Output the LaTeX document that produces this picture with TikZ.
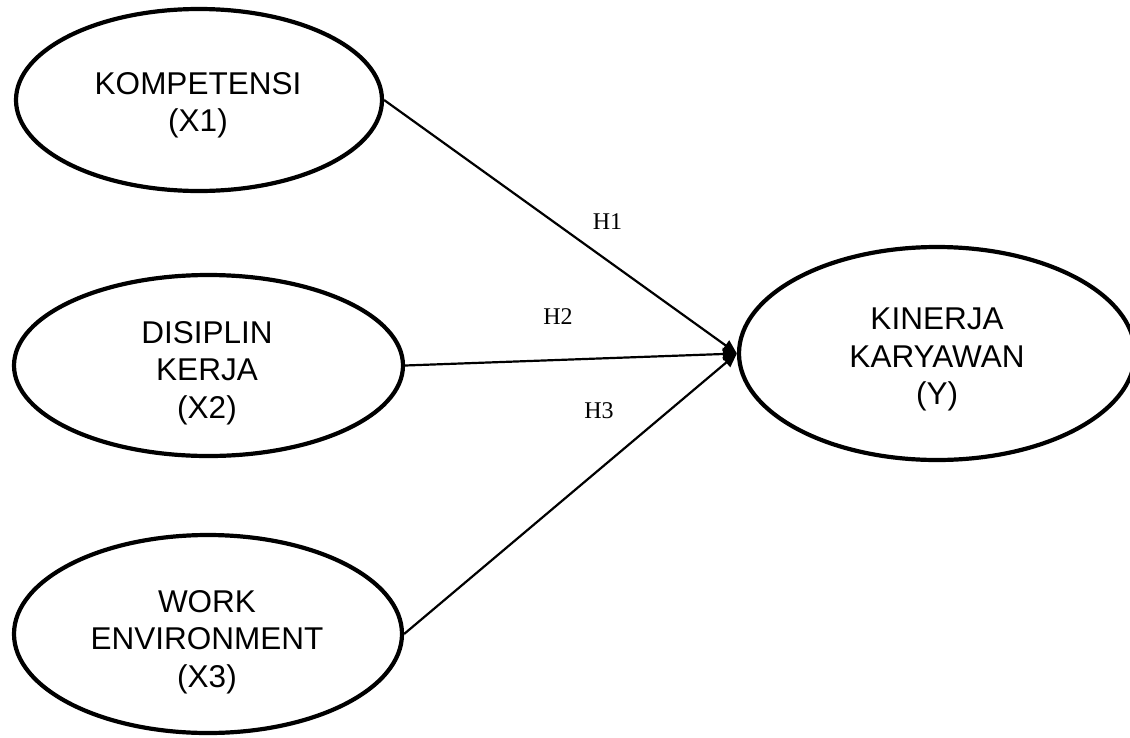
\documentclass[tikz,border=0pt]{standalone}
\usepackage{fontspec}
\setmainfont{Liberation Sans}
\newfontfamily\labelfont{Liberation Serif}
\usetikzlibrary{arrows.meta,shapes.geometric}
\begin{document}
\begin{tikzpicture}[x=1pt,y=-1pt,
  varbox/.style={draw, ellipse, line width=4.2pt, inner sep=0pt},
  vartext/.style={align=center, font=\fontsize{31.5}{37.5}\selectfont, inner sep=0pt},
  hyp/.style={font=\labelfont\fontsize{24}{28}\selectfont, inner sep=0pt},
  link/.style={line width=2.2pt, -{Triangle[length=14pt,width=12pt]}}
]
\useasboundingbox (0,0) rectangle (1130,737);
\node[varbox, minimum width=366pt, minimum height=182pt] (e1) at (199,100) {};
\node[varbox, minimum width=389pt, minimum height=181pt] (e2) at (208.5,365.5) {};
\node[varbox, minimum width=388pt, minimum height=198pt] (e3) at (208,634) {};
\node[varbox, minimum width=396pt, minimum height=213pt] (ey) at (937,353.5) {};

\node[vartext] (t1) at (198,105.5) {KOMPETENSI\\(X1)};
\node[vartext] (t2) at (207,373) {DISIPLIN\\KERJA\\(X2)};
\node[vartext] (t3) at (207,642) {WORK\\ENVIRONMENT\\(X3)};
\node[vartext] (ty) at (937,359.5) {KINERJA\\KARYAWAN\\(Y)};

\draw[link] (e1.east) -- (ey.west);
\draw[link] (e2.east) -- (ey.west);
\draw[link] (e3.east) -- (ey.west);

\node[hyp] (h1) at (607.5,221.5) {H1};
\node[hyp] (h2) at (558,317) {H2};
\node[hyp] (h3) at (599,410.5) {H3};
\end{tikzpicture}
\end{document}
